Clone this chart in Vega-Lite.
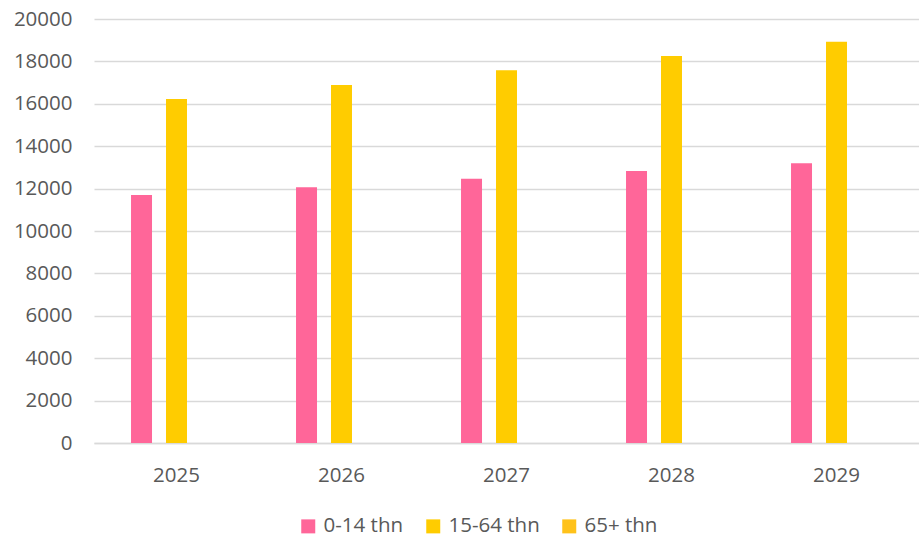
{
  "$schema": "https://vega.github.io/schema/vega-lite/v6.json",
  "width": 825,
  "height": 424,
  "autosize": {"type": "none"},
  "padding": {"left": 94, "top": 19, "right": 0, "bottom": 97},
  "background": "white",
  "data": {
    "values": [
      {"year": "2025", "group": "0-14 thn", "value": 11700},
      {"year": "2025", "group": "15-64 thn", "value": 16230},
      {"year": "2025", "group": "65+ thn", "value": 0},
      {"year": "2026", "group": "0-14 thn", "value": 12060},
      {"year": "2026", "group": "15-64 thn", "value": 16890},
      {"year": "2026", "group": "65+ thn", "value": 0},
      {"year": "2027", "group": "0-14 thn", "value": 12470},
      {"year": "2027", "group": "15-64 thn", "value": 17580},
      {"year": "2027", "group": "65+ thn", "value": 0},
      {"year": "2028", "group": "0-14 thn", "value": 12830},
      {"year": "2028", "group": "15-64 thn", "value": 18255},
      {"year": "2028", "group": "65+ thn", "value": 0},
      {"year": "2029", "group": "0-14 thn", "value": 13190},
      {"year": "2029", "group": "15-64 thn", "value": 18930},
      {"year": "2029", "group": "65+ thn", "value": 0}
    ]
  },
  "mark": {"type": "bar"},
  "encoding": {
    "x": {
      "field": "year",
      "type": "nominal",
      "scale": {"paddingInner": 0.364, "paddingOuter": 0.182},
      "axis": {
        "title": null,
        "labelAngle": 0,
        "labelFont": "Open Sans",
        "labelFontSize": 20.5,
        "labelColor": "#595959",
        "labelPadding": 22,
        "ticks": false,
        "domainColor": "#d9d9d9",
        "domainWidth": 1.5
      }
    },
    "xOffset": {
      "field": "group",
      "type": "nominal",
      "scale": {"paddingInner": 0.4, "paddingOuter": 0.2}
    },
    "y": {
      "field": "value",
      "type": "quantitative",
      "scale": {"domain": [0, 20000], "nice": false},
      "axis": {
        "title": null,
        "values": [0, 2000, 4000, 6000, 8000, 10000, 12000, 14000, 16000, 18000, 20000],
        "format": "d",
        "labelFont": "Open Sans",
        "labelFontSize": 20.5,
        "labelColor": "#595959",
        "labelPadding": 22,
        "ticks": false,
        "domain": false,
        "gridColor": "#d9d9d9",
        "gridWidth": 1.5
      }
    },
    "color": {
      "field": "group",
      "type": "nominal",
      "scale": {
        "domain": ["0-14 thn", "15-64 thn", "65+ thn"],
        "range": ["#FF6699", "#FFCC00", "#FFC21A"]
      },
      "legend": {
        "title": null,
        "orient": "none",
        "legendX": 204,
        "legendY": 497,
        "direction": "horizontal",
        "symbolType": "square",
        "symbolSize": 196,
        "symbolStrokeWidth": 0,
        "labelFont": "Open Sans",
        "labelFontSize": 20.5,
        "labelColor": "#595959",
        "labelOffset": 5,
        "columnPadding": 19
      }
    }
  },
  "config": {"view": {"stroke": null}}
}
